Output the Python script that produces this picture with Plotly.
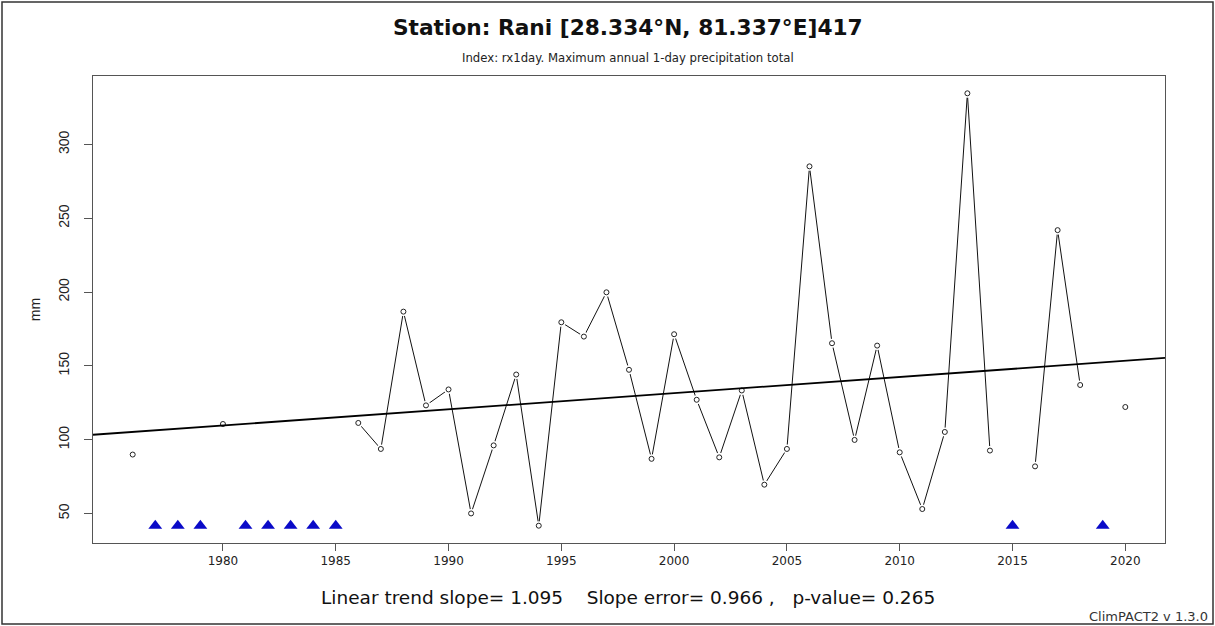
import plotly.graph_objects as go

# ---- data ----
years = list(range(1976, 2021))
rx1day = [
    89.9, None, None, None, 110.6, None, None, None, None, None,   # 1976-1985
    111.3, 93.7, 186.7, 123.2, 134.0, 50.0, 96.1, 144.1, 41.7, 179.5,  # 1986-1995
    169.8, 199.8, 147.3, 87.0, 171.4, 127.0, 88.0, 133.3, 69.5, 93.7,  # 1996-2005
    285.1, 165.3, 99.8, 163.7, 91.4, 53.0, 105.2, 334.6, 92.6, None,  # 2006-2015
    81.9, 241.9, 137.0, None, 122.1,                                  # 2016-2020
]
trend_slope = 1.095
trend_at_2000 = 131.5
x_ticks = [1980, 1985, 1990, 1995, 2000, 2005, 2010, 2015, 2020]
y_ticks = [50, 100, 150, 200, 250, 300]

title_text = "Station: Rani [28.334°N, 81.337°E]417"
subtitle_text = "Index: rx1day. Maximum annual 1-day precipitation total"
stats_text = "Linear trend slope= 1.095    Slope error= 0.966 ,   p-value= 0.265"
version_text = "ClimPACT2 v 1.3.0"

# ---- derived ranges (R style: 4% padding) ----
valid = [v for v in rx1day if v is not None]
ymin, ymax = min(valid), max(valid)
xr = [years[0] - 0.04 * (years[-1] - years[0]), years[-1] + 0.04 * (years[-1] - years[0])]
yr = [ymin - 0.04 * (ymax - ymin), ymax + 0.04 * (ymax - ymin)]

missing_years = [y for y, v in zip(years, rx1day) if v is None]
missing_marks = [ymin for _ in missing_years]

trend_x = xr
trend_y = [trend_at_2000 + trend_slope * (x - 2000) for x in trend_x]

W, H = 1215, 626
ML, MR, MT, MB = 93, 50, 76, 83
PW, PH = W - ML - MR, H - MT - MB


def px(xp):
    return (xp - ML) / PW


def py(yp):
    return (H - MB - yp) / PH


WIDE = "DejaVu Sans, Verdana, sans-serif"
ARIAL = "Liberation Sans, Arial, sans-serif"

fig = go.Figure()
fig.add_trace(go.Scatter(x=years, y=rx1day, mode="lines",
                         line=dict(color="#111111", width=1), connectgaps=False,
                         hoverinfo="skip", showlegend=False))
fig.add_trace(go.Scatter(x=years, y=rx1day, mode="markers",
                         marker=dict(symbol="circle", size=9, color="white"),
                         hoverinfo="skip", showlegend=False))
fig.add_trace(go.Scatter(x=years, y=rx1day, mode="markers",
                         marker=dict(symbol="circle-open", size=5, color="#222222",
                                     line=dict(width=1, color="#222222")),
                         showlegend=False))
fig.add_trace(go.Scatter(x=trend_x, y=trend_y, mode="lines",
                         line=dict(color="#000000", width=1.8), showlegend=False,
                         hoverinfo="skip"))
fig.add_trace(go.Scatter(x=missing_years, y=missing_marks, mode="markers",
                         marker=dict(symbol="triangle-up", size=12, color="#0a0ac8"),
                         showlegend=False))

fig.update_layout(
    width=W, height=H,
    margin=dict(l=ML, r=MR, t=MT, b=MB),
    paper_bgcolor="white", plot_bgcolor="white",
    font=dict(family=ARIAL, color="#222222"),
    xaxis=dict(range=xr, tickvals=x_ticks, ticks="outside", ticklen=7,
               tickcolor="#555555", showline=True, mirror=True, linecolor="#555555",
               linewidth=1, showgrid=False, zeroline=False,
               tickfont=dict(family=WIDE, size=12, color="#222222")),
    yaxis=dict(range=yr, tickvals=y_ticks, ticks="outside", ticklen=8,
               tickcolor="#555555", showline=True, mirror=True, linecolor="#555555",
               linewidth=1, showgrid=False, zeroline=False, tickangle=-90,
               ticklabelstandoff=9,
               tickfont=dict(family=ARIAL, size=14, color="#222222"),
               title=dict(text="mm", font=dict(family=ARIAL, size=14, color="#222222"),
                          standoff=12)),
    annotations=[
        dict(text="<b>" + title_text + "</b>", xref="paper", yref="paper",
             x=px(628), y=py(28), xanchor="center", yanchor="middle",
             showarrow=False, font=dict(family=WIDE, size=21.7, color="#111111")),
        dict(text=subtitle_text, xref="paper", yref="paper",
             x=px(628), y=py(58), xanchor="center", yanchor="middle",
             showarrow=False, font=dict(family=WIDE, size=11.7, color="#222222")),
        dict(text=stats_text.replace("  ", "&nbsp;&nbsp;"), xref="paper", yref="paper",
             x=px(628), y=py(597), xanchor="center", yanchor="middle",
             showarrow=False, font=dict(family=WIDE, size=18.5, color="#111111")),
        dict(text=version_text, xref="paper", yref="paper",
             x=px(1210), y=py(616), xanchor="right", yanchor="middle",
             showarrow=False, font=dict(family=WIDE, size=13, color="#333333")),
    ],
    shapes=[
        dict(type="rect", xref="paper", yref="paper",
             x0=px(2), x1=px(1213), y0=py(2), y1=py(624),
             line=dict(color="#333333", width=1.5), fillcolor="rgba(0,0,0,0)", layer="below"),
    ],
)

fig.write_html(
    "out.html",
    config={"displayModeBar": False},
    post_script="document.body.style.margin='0';document.body.style.padding='0';"
                "document.body.style.overflow='hidden';",
)
